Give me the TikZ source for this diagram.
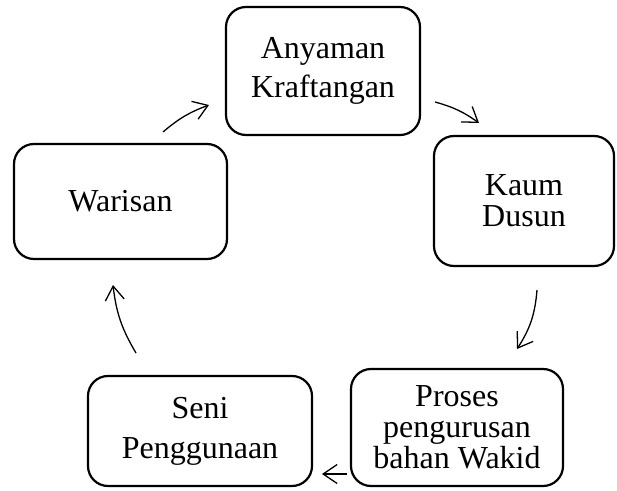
\documentclass[tikz,border=0pt]{standalone}
\usepackage{fontspec}
\setmainfont{Liberation Serif}
\usetikzlibrary{arrows.meta}
\begin{document}
\begin{tikzpicture}[x=1pt,y=1pt,
  stepbox/.style={draw=black, line width=2.2pt, rounded corners=20pt, align=center,
    inner sep=0pt, font=\fontsize{32}{39}\selectfont},
  tight/.style={font=\fontsize{32}{31}\selectfont},
  wide/.style={font=\fontsize{32}{40}\selectfont},
  flow/.style={line width=1.3pt, -{Straight Barb[length=14pt,width=19pt,line width=1.3pt]}}]
\useasboundingbox (0,0) rectangle (617,490);
\node[stepbox, minimum width=194pt, minimum height=128pt] (A) at (323,419) {Anyaman\\Kraftangan};
\node[stepbox, tight, minimum width=180pt, minimum height=130pt] (K) at (524,289) {Kaum\\Dusun};
\node[stepbox, tight, minimum width=212pt, minimum height=117pt] (P) at (457,62.5) {Proses\\pengurusan\\bahan Wakid};
\node[stepbox, wide, minimum width=224pt, minimum height=110pt] (S) at (200,59) {Seni\\Penggunaan};
\node[stepbox, minimum width=213pt, minimum height=115pt] (W) at (120.5,288.5) {Warisan};
\coordinate (w1) at (163,358);
\coordinate (a1) at (209,385);
\coordinate (a2) at (435,388);
\coordinate (k2) at (479,367);
\coordinate (k3) at (537,200);
\coordinate (p3) at (517,141);
\coordinate (p4) at (347,16);
\coordinate (s4) at (322,16);
\coordinate (s5) at (136,137);
\coordinate (w5) at (113,205);
\draw[flow] (w1) to[bend left=10] (a1);
\draw[flow] (a2) to[bend left=10] (k2);
\draw[flow] (k3) to[bend left=14] (p3);
\draw[flow] (p4) -- (s4);
\draw[flow] (s5) to[bend left=12] (w5);
\end{tikzpicture}
\end{document}
